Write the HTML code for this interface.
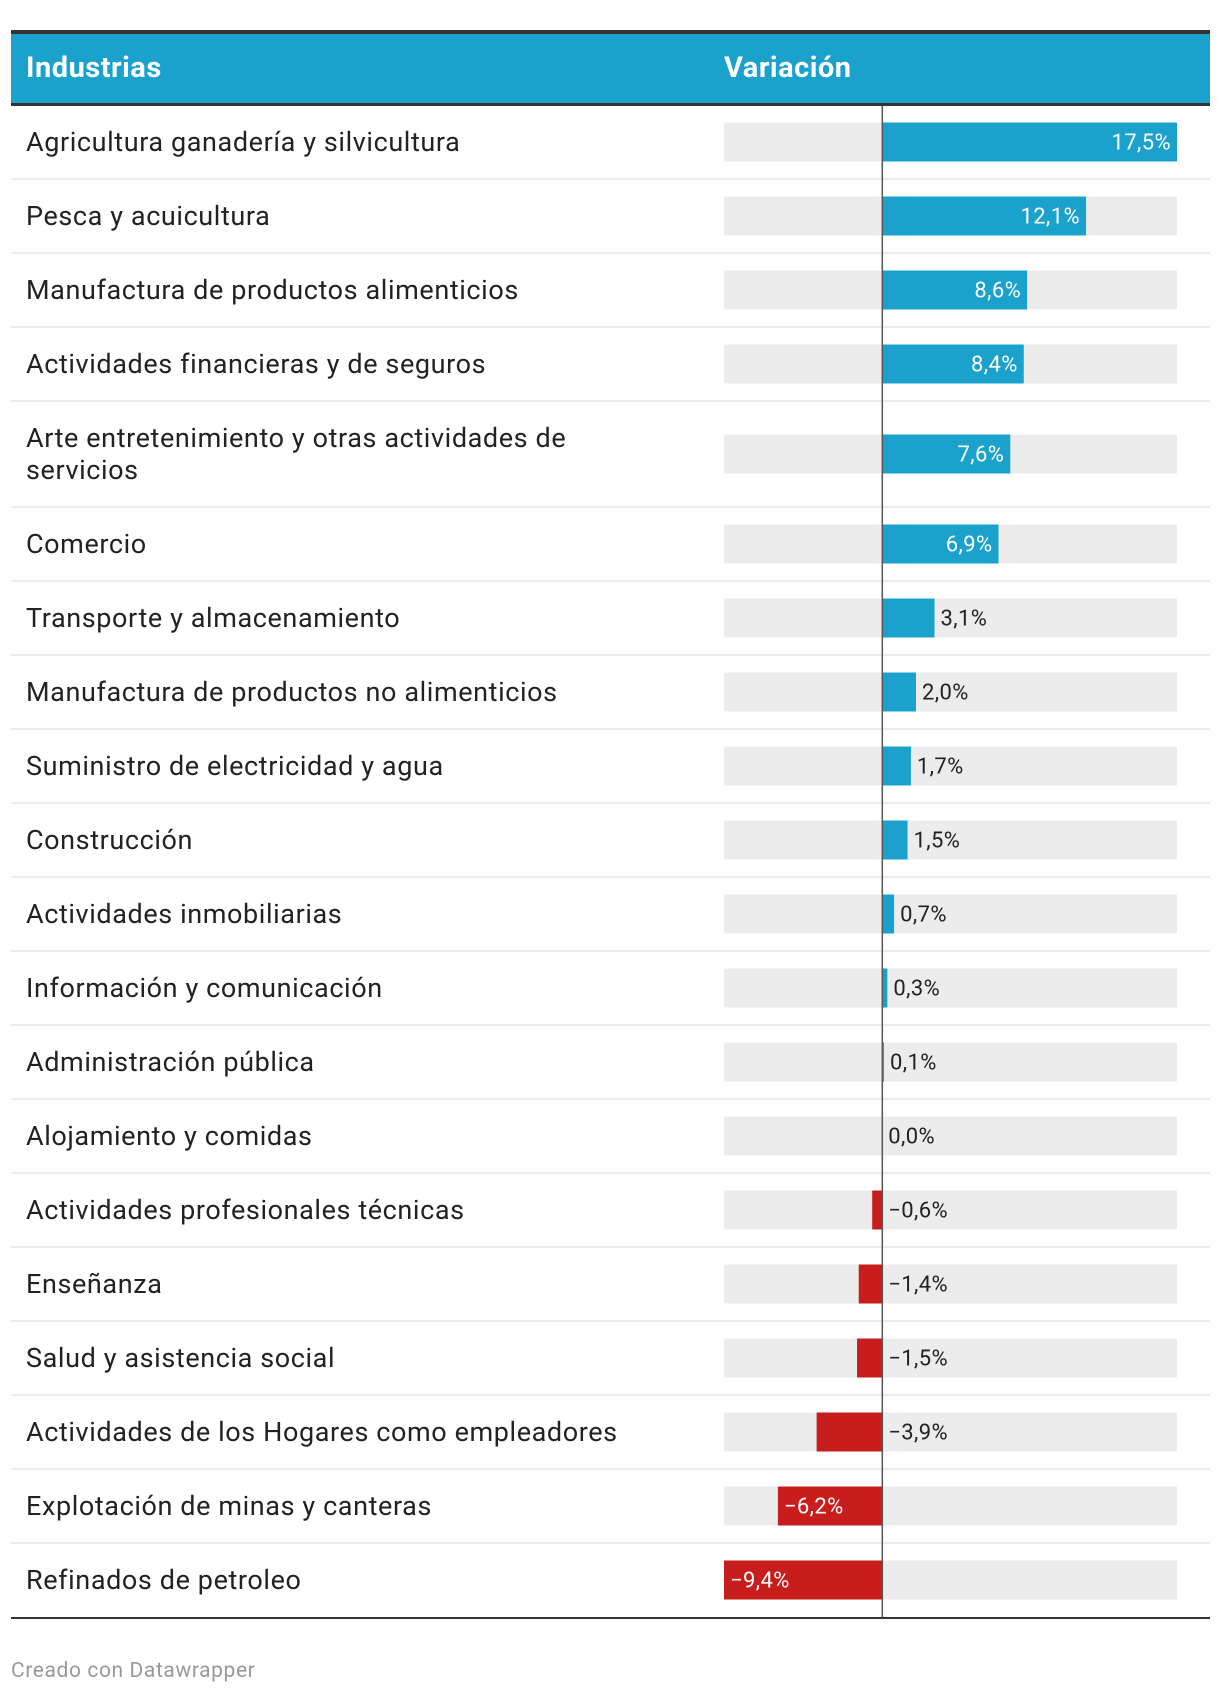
<!DOCTYPE html>
<html><head><meta charset="utf-8">
<style>
html,body{margin:0;padding:0;background:#fff;width:1220px;height:1694px;overflow:hidden;font-family:"Roboto","Liberation Sans",sans-serif;}
svg{position:absolute;left:0;top:0}
</style></head>
<body>
<svg id="chart" width="1220" height="1694" xmlns="http://www.w3.org/2000/svg"></svg>
<script>
const categories = ["Agricultura ganadería y silvicultura","Pesca y acuicultura","Manufactura de productos alimenticios","Actividades financieras y de seguros","Arte entretenimiento y otras actividades de|servicios","Comercio","Transporte y almacenamiento","Manufactura de productos no alimenticios","Suministro de electricidad y agua","Construcción","Actividades inmobiliarias","Información y comunicación","Administración pública","Alojamiento y comidas","Actividades profesionales técnicas","Enseñanza","Salud y asistencia social","Actividades de los Hogares como empleadores","Explotación de minas y canteras","Refinados de petroleo"];
const values = [17.5,12.1,8.6,8.4,7.6,6.9,3.1,2.0,1.7,1.5,0.7,0.3,0.1,0.0,-0.6,-1.4,-1.5,-3.9,-6.2,-9.4];
const domainMin = -9.4, domainMax = 17.5;

const svg = document.getElementById('chart');
const NS = 'http://www.w3.org/2000/svg';
function mk(tag, attrs, parent){const e=document.createElementNS(NS,tag);for(const k in attrs)e.setAttribute(k,attrs[k]);(parent||svg).appendChild(e);return e;}
const L=11,R=1210,barL=724,barR=1177;
const x = v => barL + (v-domainMin)/(domainMax-domainMin)*(barR-barL);
const fmt = v => (v<0?'\u2212':'') + Math.abs(v).toFixed(1).replace('.',',') + '%';

let e = mk('rect',{x:L,y:30,width:R-L,height:4,fill:'#333'});


e = mk('rect',{x:L,y:34,width:R-L,height:69,fill:'#1aa1cc'});


e = mk('rect',{x:L,y:103,width:R-L,height:3,fill:'#333'});


e = mk('text',{x:26,y:77,fill:'#fff','font-size':29,'font-weight':'bold','letter-spacing':0.5}); e.textContent='Industrias';


e = mk('text',{x:724,y:77,fill:'#fff','font-size':29,'font-weight':'bold','letter-spacing':0.5}); e.textContent='Variación';



let y = 105;
const H=74, HT=106;
categories.forEach((c,i)=>{
  const h = c.includes('|') ? HT : H;
  const g = mk('g',{});
  
  
  const cy = y + h/2;
  const lines = c.split('|');
  const t = mk('text',{x:26,'font-size':27,fill:'#222','letter-spacing':0.6},g);
  
  
  lines.forEach((ln,k)=>{const ts=mk('tspan',{x:26,y:cy+9+(k-(lines.length-1)/2)*32},t);ts.textContent=ln;});
  const bg = mk('rect',{x:barL,y:cy-19.5,width:barR-barL,height:39,fill:'#ececec'},g);
  
  
  const v = values[i], x0=x(0), xv=x(v);
  const b = mk('rect',{x:Math.min(x0,xv),y:cy-19.5,width:Math.abs(xv-x0),height:39,fill:v>=0?'#1aa1cc':'#c71e1d'},g);
  
  
  const inside = Math.abs(xv-x0) > 90;
  let lx, anchor, col='#fff';
  if(inside){ if(v>=0){lx=xv-6;anchor='end';}else{lx=xv+6;anchor='start';} }
  else { col='#222'; anchor='start'; lx = (v>=0? xv : x0) + 6; }
  const lt = mk('text',{x:lx,y:cy+7.5,'font-size':22,fill:col,'text-anchor':anchor,'letter-spacing':0.4},g);
  lt.textContent=fmt(v);
  
  
  y += h;
  if(i<categories.length-1){
    const s = mk('rect',{x:L,y:y-1,width:R-L,height:2,fill:'#ebebeb'});
    
    
  }
});
e = mk('rect',{x:x(0)-0.75,y:106,width:1.5,height:y-106,fill:'#555'});


e = mk('rect',{x:L,y:y,width:R-L,height:2,fill:'#333'});


e = mk('text',{x:11,y:1677,'font-size':21,fill:'#999','letter-spacing':0.6}); e.textContent='Creado con Datawrapper';


</script>
</body></html>
